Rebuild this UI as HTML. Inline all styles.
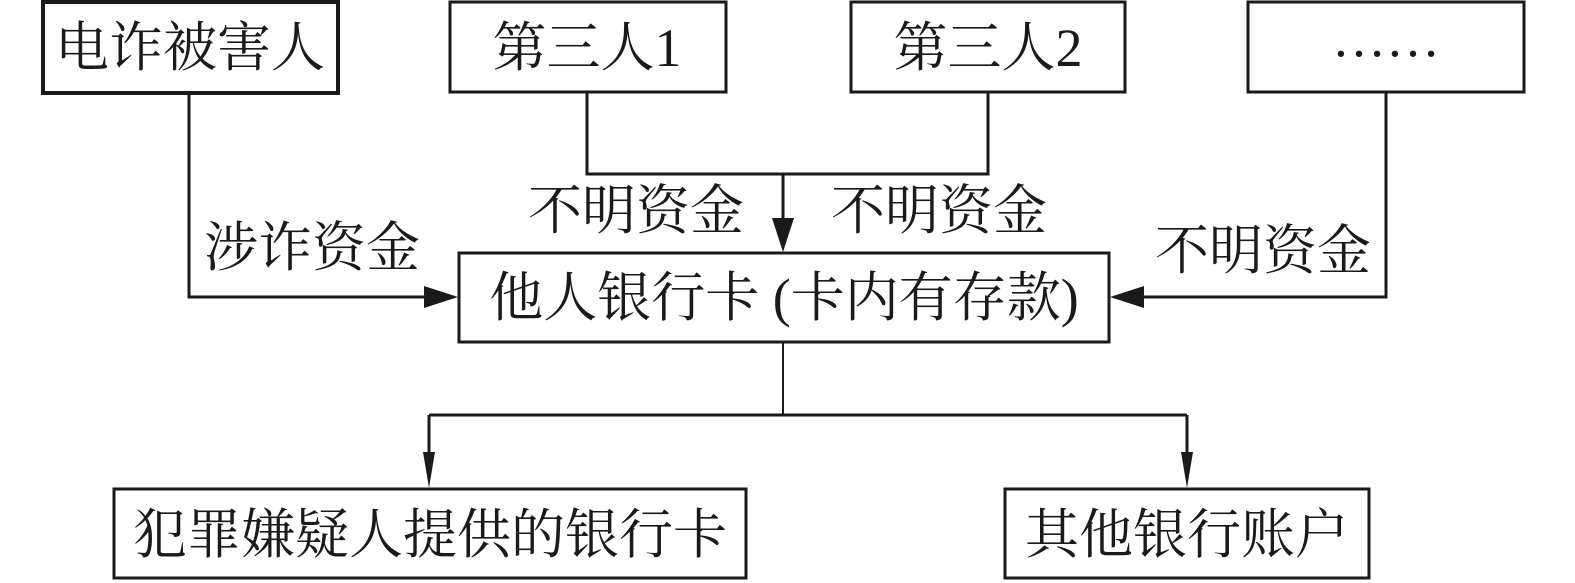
<!DOCTYPE html>
<html><head><meta charset="utf-8"><style>
html,body{margin:0;padding:0;background:#fff;}
svg{display:block;}
text{font-family:"Liberation Serif","Noto Serif CJK SC",serif;font-size:54px;fill:#1a1a1a;}
</style></head><body>
<svg width="1575" height="583" viewBox="0 0 1575 583" xmlns="http://www.w3.org/2000/svg">
<g fill="none" stroke="#1a1a1a" stroke-width="3">
<rect x="43" y="2" width="295" height="91" stroke-width="4"/>
<rect x="450" y="2" width="276" height="90"/>
<rect x="851" y="2" width="274" height="90"/>
<rect x="1248" y="2" width="276" height="90"/>
<rect x="459" y="253" width="650" height="89"/>
<rect x="114" y="489" width="632" height="89"/>
<rect x="1005" y="489" width="364" height="89"/>
<polyline points="189,93 189,297 425,297"/>
<polyline points="587,92 587,174 988,174 988,92"/>
<line x1="783" y1="174" x2="783" y2="222"/>
<polyline points="1386,92 1386,297 1142,297"/>
<line x1="783" y1="342" x2="783" y2="415" stroke-width="2"/>
<line x1="429" y1="415" x2="1187" y2="415"/>
<line x1="429" y1="415" x2="429" y2="455"/>
<line x1="1187" y1="415" x2="1187" y2="455"/>
</g>
<g fill="#1a1a1a">
<polygon points="458,297 424,286 424,308"/>
<polygon points="1110,297 1144,286 1144,308"/>
<polygon points="783,252 772,218 794,218"/>
<polygon points="429,488 423,452 435,452"/>
<polygon points="1187,488 1181,452 1193,452"/>
</g>
<text x="190" y="66" text-anchor="middle">电诈被害人</text>
<text x="587" y="66" text-anchor="middle">第三人1</text>
<text x="988" y="66" text-anchor="middle">第三人2</text>
<text x="1386" y="56" text-anchor="middle" font-size="36">……</text>
<text x="312" y="266" text-anchor="middle">涉诈资金</text>
<text x="636" y="229" text-anchor="middle">不明资金</text>
<text x="939" y="229" text-anchor="middle">不明资金</text>
<text x="1263" y="269" text-anchor="middle">不明资金</text>
<text x="784" y="316" text-anchor="middle">他人银行卡 (卡内有存款)</text>
<text x="430" y="553" text-anchor="middle">犯罪嫌疑人提供的银行卡</text>
<text x="1187" y="553" text-anchor="middle">其他银行账户</text>
</svg>
</body></html>
